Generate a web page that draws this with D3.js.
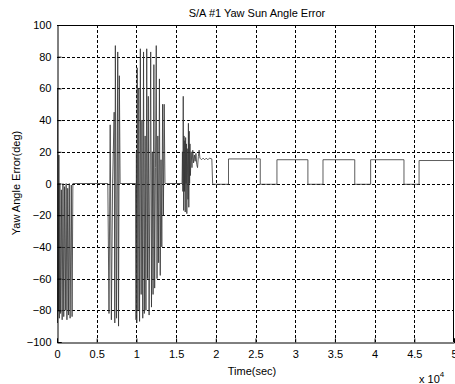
<!DOCTYPE html>
<html>
<head>
<meta charset="utf-8">
<script src="https://cdn.jsdelivr.net/npm/d3@7"></script>
<style>
  body { margin: 0; background: #fff; }
  text { font-family: "Liberation Sans", Arial, sans-serif; fill: #000; }
</style>
</head>
<body>
<svg width="455" height="384"></svg>
<script>
// time in units of 1e4 sec, yaw error in deg
const xTicks = [0, 0.5, 1, 1.5, 2, 2.5, 3, 3.5, 4, 4.5, 5];
const yTicks = [-100, -80, -60, -40, -20, 0, 20, 40, 60, 80, 100];

const burst1 = [[0,0],[0.002,60],[0.006,-88],[0.012,0],[0.018,-80],[0.024,18],[0.03,-85],[0.036,0],
  [0.045,-82],[0.055,-4],[0.065,-86],[0.075,0],[0.085,-84],[0.095,-2],[0.105,-80],[0.115,0],
  [0.125,-86],[0.135,-3],[0.145,-83],[0.155,0],[0.165,-85],[0.18,-1],[0.19,-84],[0.2,0]];

const burst2 = [[0.64,0],[0.655,-82],[0.67,37],[0.685,-86],[0.70,0],[0.72,45],[0.728,-88],[0.735,87],
  [0.75,-85],[0.765,83],[0.775,-90],[0.785,68],[0.795,0],[0.99,0]];

const burst3 = [[0.99,0],[0.995,-86],[1.0,20],[1.005,-88],[1.01,73],[1.02,-80],[1.03,60],[1.04,-87],
  [1.05,85],[1.06,-70],[1.07,40],[1.08,-85],[1.09,83],[1.10,-82],[1.11,30],[1.12,-80],[1.13,85],
  [1.14,-60],[1.15,55],[1.16,-83],[1.18,83],[1.19,-78],[1.20,20],[1.21,-70],[1.22,75],[1.23,-66],
  [1.24,10],[1.25,87],[1.26,-60],[1.27,30],[1.28,-50],[1.29,66],[1.30,-58],[1.31,15],[1.32,-40],
  [1.33,50],[1.34,-20],[1.35,50],[1.36,0],[1.575,0]];

const settle = [[1.575,0],[1.58,20],[1.585,-5],[1.59,55],[1.595,-17],[1.60,30],[1.605,-5],[1.61,27],
  [1.615,-18],[1.62,29],[1.625,0],[1.63,25],[1.635,-19],[1.64,22],[1.65,-10],[1.655,38],[1.66,-15],
  [1.665,33],[1.67,0],[1.675,25],[1.68,5],[1.69,20],[1.70,10],[1.71,21],[1.72,13],[1.73,18],
  [1.74,14],[1.75,19],[1.76,12],[1.77,10],[1.78,17],[1.79,21],[1.80,16],[1.82,15],[1.84,16],
  [1.86,15],[1.88,16],[1.90,15],[1.92,16],[1.95,15.5],[1.96,0]];

const pulseOn = [2.16, 2.77, 3.35, 3.95, 4.56];
const pulseOff = [2.56, 3.16, 3.75, 4.37, 5.0];
const pulseLevel = [15.5, 15, 15, 15, 14.5];
const lowLevel = -0.5;

let pulses = [[1.96, lowLevel]];
pulseOn.forEach((t0, i) => {
  pulses.push([t0, lowLevel], [t0, pulseLevel[i]], [pulseOff[i], pulseLevel[i]]);
  if (pulseOff[i] < 5) pulses.push([pulseOff[i], lowLevel]);
});

const data = [].concat(burst1, burst2, burst3, settle, pulses);

const svg = d3.select("svg");
const m = {left: 57, right: 454, top: 25, bottom: 342};

const x = d3.scaleLinear().domain([0, 5]).range([m.left, m.right]);
const y = d3.scaleLinear().domain([-100, 100]).range([m.bottom, m.top]);

// grid
const grid = svg.append("g").attr("stroke", "#000").attr("stroke-width", 1).attr("stroke-dasharray", "3,2");
grid.selectAll(".gx").data(xTicks.slice(1, -1)).enter().append("line")
  .attr("x1", d => Math.round(x(d)) + 0.5).attr("x2", d => Math.round(x(d)) + 0.5)
  .attr("y1", m.top).attr("y2", m.bottom);
grid.selectAll(".gy").data(yTicks.slice(1, -1)).enter().append("line")
  .attr("y1", d => Math.round(y(d)) + 0.5).attr("y2", d => Math.round(y(d)) + 0.5)
  .attr("x1", m.left).attr("x2", m.right);

// data line
svg.append("clipPath").attr("id", "clip").append("rect")
  .attr("x", m.left).attr("y", m.top).attr("width", m.right - m.left).attr("height", m.bottom - m.top);

svg.append("path")
  .datum(data)
  .attr("clip-path", "url(#clip)")
  .attr("fill", "none")
  .attr("stroke", "#333")
  .attr("stroke-width", 0.8)
  .attr("d", d3.line().x(d => x(d[0])).y(d => y(d[1])));

// axes
const xAxis = svg.append("g").attr("transform", `translate(0,${m.bottom + 0.5})`)
  .call(d3.axisBottom(x).tickValues(xTicks).tickSize(-4).tickPadding(8).tickFormat(d3.format("")));
const yAxis = svg.append("g").attr("transform", `translate(${m.left + 0.5},0)`)
  .call(d3.axisLeft(y).tickValues(yTicks).tickSize(-4).tickPadding(6));
[xAxis, yAxis].forEach(a => {
  a.select(".domain").attr("stroke", "#000");
  a.selectAll("line").attr("stroke", "#000");
  a.selectAll("text").attr("font-size", 11).attr("font-family", "Liberation Sans, Arial, sans-serif");
});
// box top and right
svg.append("line").attr("x1", m.left).attr("x2", m.right).attr("y1", m.top + 0.5).attr("y2", m.top + 0.5).attr("stroke", "#000");
svg.append("line").attr("x1", m.right - 0.5).attr("x2", m.right - 0.5).attr("y1", m.top).attr("y2", m.bottom).attr("stroke", "#000");

// labels
svg.append("text").attr("x", 257).attr("y", 17).attr("text-anchor", "middle").attr("font-size", 11)
  .text("S/A #1 Yaw Sun Angle Error");
svg.append("text").attr("x", 252).attr("y", 375).attr("text-anchor", "middle").attr("font-size", 11)
  .text("Time(sec)");
svg.append("text").attr("transform", "translate(20,183) rotate(-90)").attr("text-anchor", "middle")
  .attr("font-size", 11).text("Yaw Angle Error(deg)");
const mult = svg.append("text").attr("x", 419).attr("y", 383).attr("font-size", 11);
mult.append("tspan").text("x 10");
mult.append("tspan").attr("dy", -6).attr("font-size", 8).text("4");
</script>
</body>
</html>
